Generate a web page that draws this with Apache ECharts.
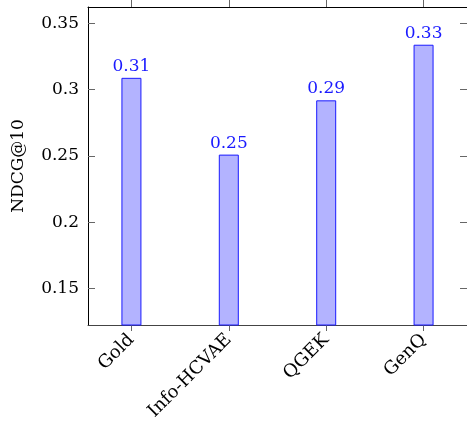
<!DOCTYPE html>
<html><head><meta charset="utf-8">
<script src="https://cdn.jsdelivr.net/npm/echarts@6/dist/echarts.min.js"></script>
<style>html,body{margin:0;padding:0;background:#fff}#c{width:467px;height:428px}</style>
</head><body><div id="c"></div>
<script>
const categories = ["Gold", "Info-HCVAE", "QGEK", "GenQ"];
const values = [0.309, 0.251, 0.292, 0.334];
const yTicks = [0.15, 0.2, 0.25, 0.3, 0.35];
const xTickIdx = [0, 1, 2, 3];

const font = "DejaVu Serif";
const chart = echarts.init(document.getElementById('c'), null, {renderer: 'canvas'});
chart.setOption({
  animation: false,
  backgroundColor: '#fff',
  grid: {left: 88, top: 7, width: 381, height: 318, containLabel: false},
  xAxis: [{
    type: 'value', min: -0.446, max: 3.446, position: 'bottom',
    axisLine: {show: true, onZero: false, lineStyle: {color: '#444', width: 1}},
    axisTick: {show: true, inside: false, length: 6, customValues: xTickIdx, lineStyle: {color: '#666'}},
    axisLabel: {show: true, customValues: xTickIdx, rotate: 45, margin: 12, fontFamily: font, fontSize: 18, color: '#000',
      formatter: v => categories[Math.round(v)] || ''},
    splitLine: {show: false}
  }, {
    type: 'value', min: -0.446, max: 3.446, position: 'top',
    axisLine: {show: true, onZero: false, lineStyle: {color: '#000', width: 1}},
    axisTick: {show: true, inside: false, length: 7, customValues: xTickIdx, lineStyle: {color: '#666'}},
    axisLabel: {show: false},
    splitLine: {show: false}
  }],
  yAxis: [{
    type: 'value', min: 0.1223, max: 0.3625, position: 'left',
    name: 'NDCG@10', nameLocation: 'middle', nameGap: 61, nameRotate: 90,
    nameTextStyle: {fontFamily: font, fontSize: 17, color: '#000'},
    axisLine: {show: true, onZero: false, lineStyle: {color: '#000', width: 1}},
    axisTick: {show: true, inside: true, length: 7, customValues: yTicks, lineStyle: {color: '#666'}},
    axisLabel: {show: true, customValues: yTicks, margin: 9, fontFamily: font, fontSize: 17, color: '#000'},
    splitLine: {show: false}
  }, {
    type: 'value', min: 0.1223, max: 0.3625, position: 'right',
    axisLine: {show: true, onZero: false, lineStyle: {color: '#000', width: 1}},
    axisTick: {show: true, inside: true, length: 7, customValues: yTicks, lineStyle: {color: '#666'}},
    axisLabel: {show: false},
    splitLine: {show: false}
  }],
  series: [{
    type: 'bar', xAxisIndex: 0, yAxisIndex: 0,
    barWidth: 20,
    data: values.map((v, i) => [i, v]),
    itemStyle: {color: '#b3b3ff', borderColor: '#1a1aff', borderWidth: 1},
    label: {show: true, position: 'top', distance: 3, fontFamily: font, fontSize: 17, color: '#1a1aff',
      formatter: p => p.value[1].toFixed(2)}
  }]
});
</script></body></html>
